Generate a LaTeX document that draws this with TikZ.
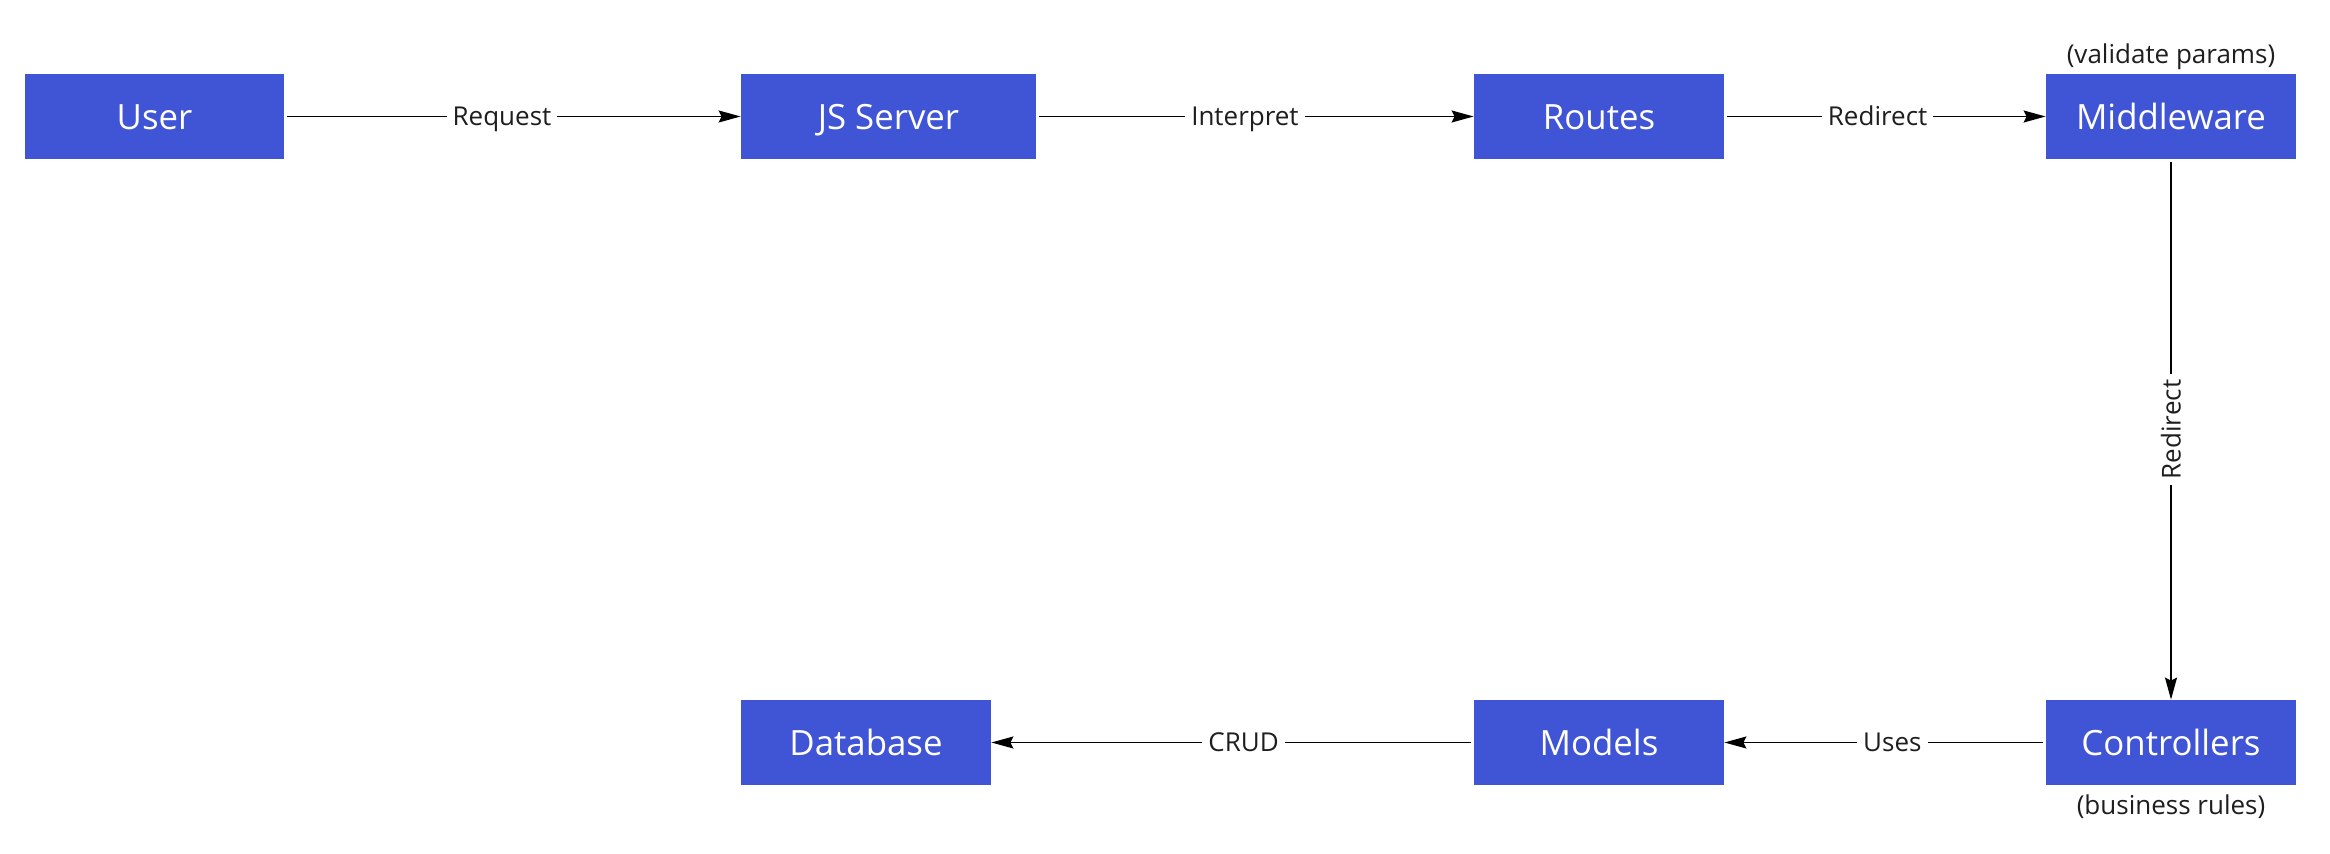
\documentclass[tikz,border=0pt]{standalone}
\usepackage{fontspec}
\setmainfont{Open Sans}
\usetikzlibrary{arrows.meta}
\definecolor{boxblue}{RGB}{64,84,214}
\definecolor{inkgray}{RGB}{30,30,30}

\begin{document}
\begin{tikzpicture}[x=0.5pt,y=-0.5pt,
        box/.style={fill=boxblue,text=white,minimum height=42.5pt,minimum width=125pt,
            inner sep=0pt,text height=13pt,text depth=0pt,font=\fontsize{17.4}{20}\selectfont},
        link/.style={line width=0.75pt,shorten <=1.5pt,
            -{Stealth[length=11pt,width=6pt,inset=1.5pt]}},
        lbl/.style={pos=0.477,fill=white,text=inkgray,inner sep=3pt,text height=9.5pt,text depth=0pt,
            font=\fontsize{13}{15}\selectfont},
        note/.style={inner sep=1.5pt,text=inkgray,font=\fontsize{13}{15}\selectfont}]
        \useasboundingbox (0,0) rectangle (2330,854);
        % top row
        \node[box,minimum width=129.5pt](user)at(154.5,116.5){User};
        \node[box,minimum width=147.5pt](server)at(888.5,116.5){JS Server};
        \node[box](routes)at(1599,116.5){Routes};
        \node[box,label={[note]above:(validate params)}](middleware)at(2171,116.5){Middleware};
        % bottom row
        \node[box](database)at(866,742.5){Database};
        \node[box](models)at(1599,742.5){Models};
        \node[box,label={[note,label distance=3pt]below:(business rules)}](controllers)at(2171,742.5){Controllers};
        % connectors
        \draw[link](user)--(server)node[lbl]{Request};
        \draw[link](server)--(routes)node[lbl]{Interpret};
        \draw[link](routes)--(middleware)node[lbl]{Redirect};
        \draw[link](middleware)--(controllers)node[lbl,pos=0.5,rotate=90]{Redirect};
        \draw[link](controllers)--(models)node[lbl]{Uses};
        \draw[link](models)--(database)node[lbl]{CRUD};
    \end{tikzpicture}
\end{document}
